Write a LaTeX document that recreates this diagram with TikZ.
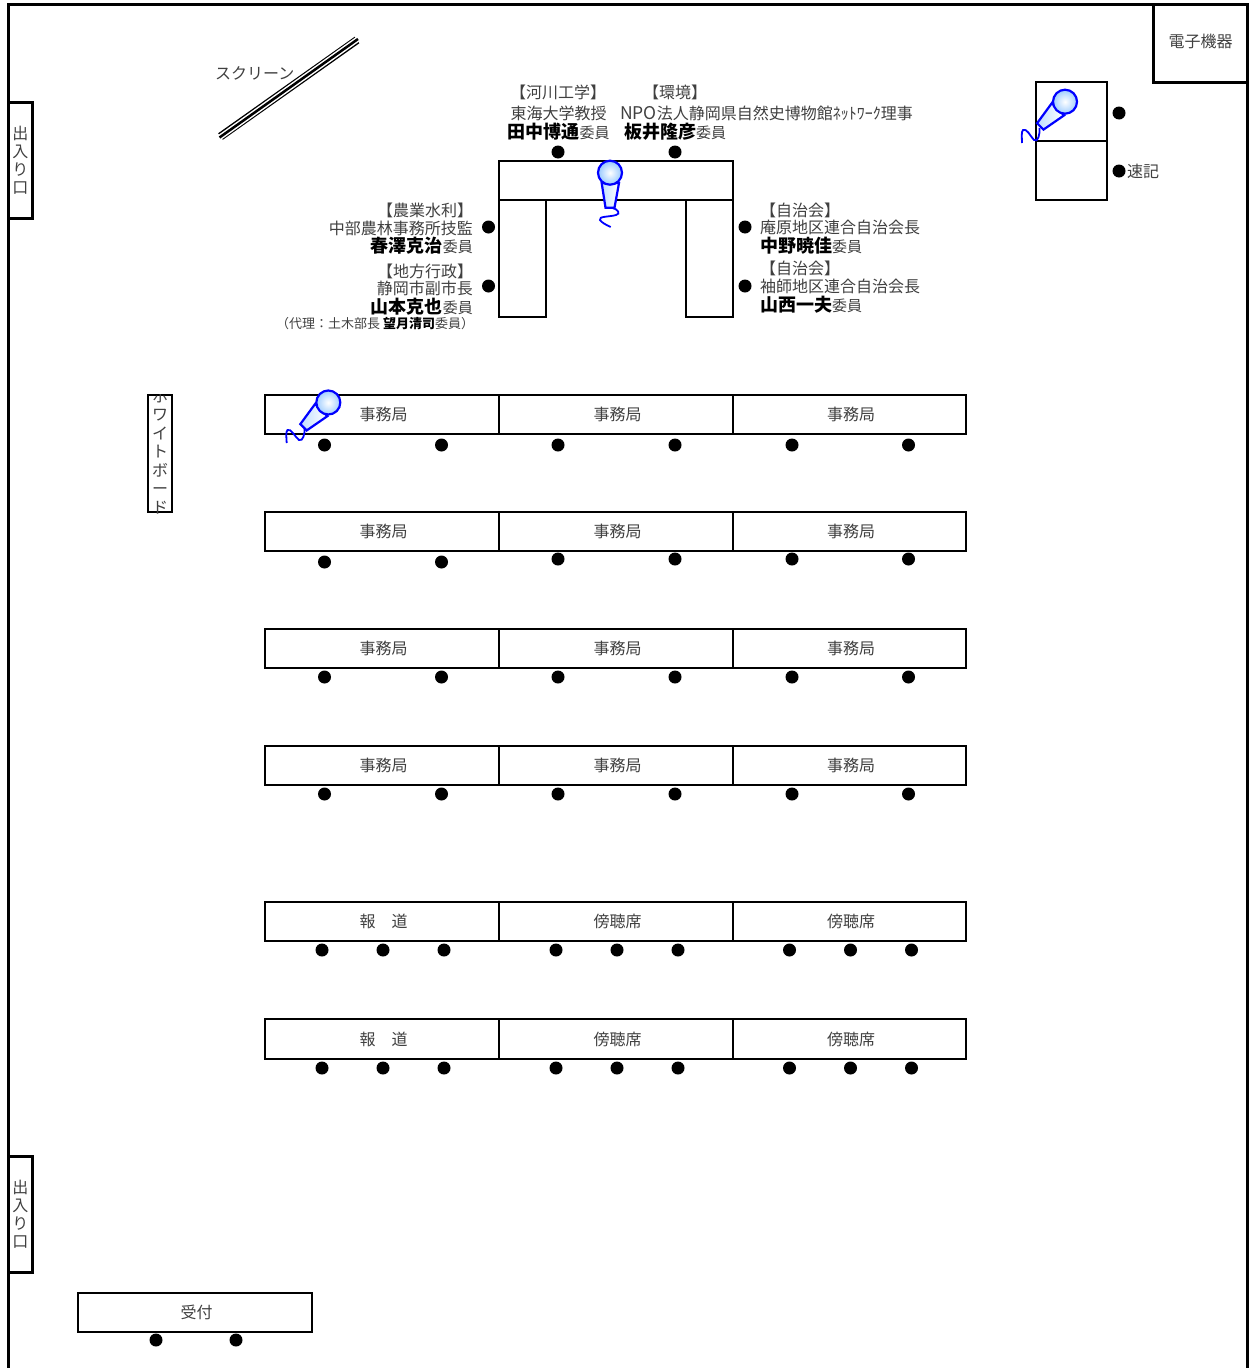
\documentclass[tikz,border=0pt]{standalone}
\usepackage{fontspec}
\setmainfont{Noto Sans CJK JP}
\definecolor{micblue}{RGB}{150,200,255}
\newcommand{\member}[1]{{\fontsize{18}{18}\selectfont\bfseries\color{black} #1}委員}
\tikzset{
  mic/.pic={
    \shade[draw=blue, line width=2.2pt, left color=micblue!60, right color=white]
      (-8.3,10.3) -- (-4.5,35) -- (4.5,35) -- (9,10.3) -- cycle;
    \shade[draw=blue, line width=2.2pt, inner color=white, outer color=micblue]
      (0,0) circle (12);
  }
}
\begin{document}
\begin{tikzpicture}[x=1pt, y=-1pt,
    seat/.style={circle, fill=black, inner sep=0pt, minimum size=13pt},
    desk/.style={rectangle, draw, line width=2pt, inner sep=0pt, minimum width=234pt, minimum height=39pt,
      text=black!75, font=\fontsize{16}{18}\selectfont, execute at begin node=\hspace*{3pt}},
    lbl/.style={inner sep=0pt, text=black!75, font=\fontsize{16}{18}\selectfont},
    small/.style={inner sep=0pt, text=black!75, font=\fontsize{13}{14}\selectfont},
    member/.style={lbl, font=\fontsize{15}{18}\selectfont},
    door/.style={rectangle, draw, line width=3pt, inner sep=0pt, minimum width=24pt, minimum height=116pt,
      align=center, text=black!75, font=\fontsize{16}{18}\selectfont},
    cord/.style={draw=blue, line width=1.8pt}]
  \useasboundingbox (0,0) rectangle (1249,1368);

  % walls
  \draw [line width=3pt] (8.5,1368) -- (8.5,4.5) -- (1247,4.5) -- (1247,1368);
  \node [door] (0) at (20.5,160) {出\\入\\り\\口};
  \node [door] (1) at (20.5,1214.5) {出\\入\\り\\口};
  \node [rectangle, draw, line width=3pt, inner sep=0pt, minimum width=94pt, minimum height=78pt,
    lbl, text=black!75, text height=12pt, text depth=3.5pt] (2) at (1200.5,43.5) {電子機器};

  % screen
  \draw [line width=8pt] (220.5,136.5) -- (357,40);
  \draw [line width=5.5pt, white] (219.5,137.5) -- (358,39);
  \draw [line width=2.5pt] (219.5,137.5) -- (358,39);
  \node [lbl, anchor=west] (screen) at (215,73) {スクリーン};

  % whiteboard
  \node [rectangle, draw, line width=2pt, inner sep=0pt, minimum width=24pt, minimum height=117pt] (board) at (160,453.5) {};
  \begin{scope}
    \clip (board.north west) rectangle (board.south east);
    \node [lbl, align=center, font=\fontsize{16}{18.5}\selectfont] (boardtext) at (160,452) {ホ\\ワ\\イ\\ト\\ボ\\ー\\ド};
  \end{scope}

  % chairman tables
  \begin{scope}[every node/.style={desk}]
    \node (t0) at (616,180) {};
    \node [minimum width=47pt, minimum height=117pt] (t1) at (522.5,258.5) {};
    \node [minimum width=47pt, minimum height=117pt] (t2) at (709.5,258.5) {};
    \node [minimum width=71pt, minimum height=59pt] (t3) at (1071.5,111.5) {};
    \node [minimum width=71pt, minimum height=59pt] (t4) at (1071.5,170.5) {};
    \node (a1) at (382,414.5) {事務局};
    \node (a2) at (616,414.5) {事務局};
    \node [minimum width=233pt] (a3) at (849.5,414.5) {事務局};
    \node (b1) at (382,531.5) {事務局};
    \node (b2) at (616,531.5) {事務局};
    \node [minimum width=233pt] (b3) at (849.5,531.5) {事務局};
    \node (c1) at (382,648.5) {事務局};
    \node (c2) at (616,648.5) {事務局};
    \node [minimum width=233pt] (c3) at (849.5,648.5) {事務局};
    \node (d1) at (382,765.5) {事務局};
    \node (d2) at (616,765.5) {事務局};
    \node [minimum width=233pt] (d3) at (849.5,765.5) {事務局};
    \node (e1) at (382,921.5) {報　道};
    \node (e2) at (616,921.5) {傍聴席};
    \node [minimum width=233pt] (e3) at (849.5,921.5) {傍聴席};
    \node [minimum height=40pt] (f1) at (382,1039) {報　道};
    \node [minimum height=40pt] (f2) at (616,1039) {傍聴席};
    \node [minimum width=233pt, minimum height=40pt] (f3) at (849.5,1039) {傍聴席};
    \node (g1) at (195,1312.5) {受付};
  \end{scope}

  % seats
  \begin{scope}[every node/.style={seat}]
    \node (s0) at (558,152) {};
    \node (s1) at (675,152) {};
    \node (s2) at (488.5,227) {};
    \node (s3) at (488.5,286) {};
    \node (s4) at (745,227) {};
    \node (s5) at (745,286) {};
    \node (s6) at (1119,113) {};
    \node (s7) at (1119,171) {};
    \node (a4) at (324.5,445) {};
    \node (a5) at (441.5,445) {};
    \node (a6) at (558,445) {};
    \node (a7) at (675,445) {};
    \node (a8) at (792,445) {};
    \node (a9) at (908.5,445) {};
    \node (b4) at (324.5,562) {};
    \node (b5) at (441.5,562) {};
    \node (b6) at (558,559) {};
    \node (b7) at (675,559) {};
    \node (b8) at (792,559) {};
    \node (b9) at (908.5,559) {};
    \node (c4) at (324.5,677) {};
    \node (c5) at (441.5,677) {};
    \node (c6) at (558,677) {};
    \node (c7) at (675,677) {};
    \node (c8) at (792,677) {};
    \node (c9) at (908.5,677) {};
    \node (d4) at (324.5,794) {};
    \node (d5) at (441.5,794) {};
    \node (d6) at (558,794) {};
    \node (d7) at (675,794) {};
    \node (d8) at (792,794) {};
    \node (d9) at (908.5,794) {};
    \node (e4) at (322,950) {};
    \node (e5) at (383,950) {};
    \node (e6) at (444,950) {};
    \node (e7) at (556,950) {};
    \node (e8) at (617,950) {};
    \node (e9) at (678,950) {};
    \node (e10) at (789.5,950) {};
    \node (e11) at (850.5,950) {};
    \node (e12) at (911.5,950) {};
    \node (f4) at (322,1068) {};
    \node (f5) at (383,1068) {};
    \node (f6) at (444,1068) {};
    \node (f7) at (556,1068) {};
    \node (f8) at (617,1068) {};
    \node (f9) at (678,1068) {};
    \node (f10) at (789.5,1068) {};
    \node (f11) at (850.5,1068) {};
    \node (f12) at (911.5,1068) {};
    \node (g2) at (156,1340) {};
    \node (g3) at (236,1340) {};
  \end{scope}

  % members
  \node [lbl] (n0) at (558,92) {【河川工学】};
  \node [lbl] (n1) at (558.5,113) {東海大学教授};
  \node [member] (n2) at (558.5,132) {\member{田中博通}};
  \node [lbl] (n3) at (675,92) {【環境】};
  \node [lbl, anchor=west] (n4) at (620,113) {{\fontsize{17.5}{18}\selectfont NPO}法人静岡県自然史博物館ﾈｯﾄﾜｰｸ理事};
  \node [member] (n5) at (675,132) {\member{板井隆彦}};
  \node [lbl] (n6) at (425,210) {【農業水利】};
  \node [lbl, anchor=east] (n7) at (473,228) {中部農林事務所技監};
  \node [member, anchor=east] (n8) at (473,246) {\member{春澤克治}};
  \node [lbl] (n9) at (425,271) {【地方行政】};
  \node [lbl, anchor=east] (n10) at (473,288) {静岡市副市長};
  \node [member, anchor=east] (n11) at (473,307) {\member{山本克也}};
  \node [small, anchor=west] (n12) at (276,324) {（代理：土木部長 {\bfseries\color{black} 望月清司}委員）};
  \node [lbl] (n13) at (800,210) {【自治会】};
  \node [lbl, anchor=west] (n14) at (760,227) {庵原地区連合自治会長};
  \node [member, anchor=west] (n15) at (760,246) {\member{中野暁佳}};
  \node [lbl] (n16) at (800,268) {【自治会】};
  \node [lbl, anchor=west] (n17) at (760,286) {袖師地区連合自治会長};
  \node [member, anchor=west] (n18) at (760,305) {\member{山西一夫}};
  \node [lbl, anchor=west] (n19) at (1127,171) {速記};

  % microphones
  \pic (m0) at (610,172.7) {mic};
  \draw [cord] (611.7,207.7) .. controls (618,209) and (621,214) .. (616,215)
    .. controls (610,217) and (598,216) .. (600,220) .. controls (601,222) and (606,225) .. (610.7,227);
  \pic [rotate=-45] (m1) at (1065,101.7) {mic};
  \draw [cord] (1039.5,128) .. controls (1040,134) and (1038,143) .. (1034,140)
    .. controls (1030,136) and (1027,128) .. (1023,130) .. controls (1021,132) and (1022,138) .. (1022,143);
  \pic [rotate=-45] (m2) at (328.3,402.5) {mic};
  \draw [cord] (304.5,429) .. controls (305,433) and (303,442) .. (299,440)
    .. controls (295,437) and (291,428) .. (287.5,430) .. controls (285.5,432) and (286.5,438) .. (286.7,443);
\end{tikzpicture}
\end{document}
